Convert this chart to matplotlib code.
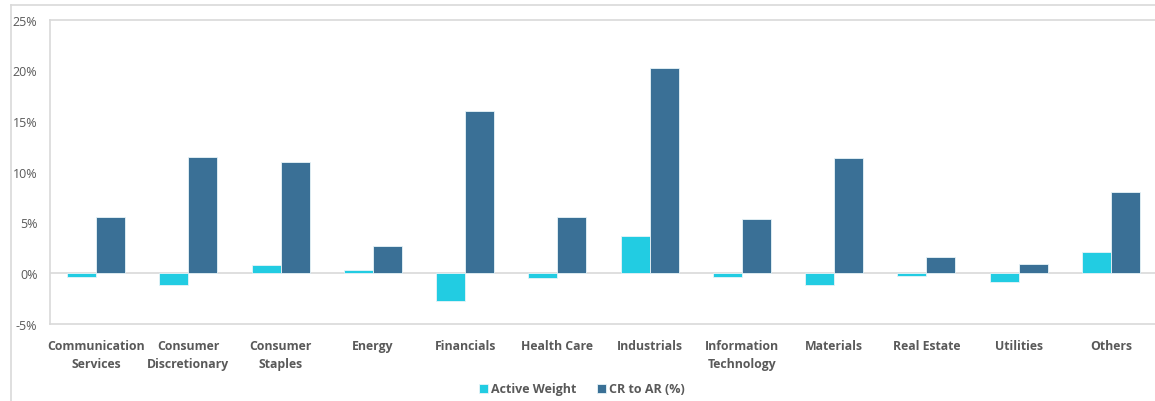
import matplotlib.pyplot as plt
import numpy as np
from matplotlib.lines import Line2D
from matplotlib.ticker import FuncFormatter

plt.rcParams['font.family'] = ['Open Sans', 'DejaVu Sans']

sectors = ['Communication\nServices', 'Consumer\nDiscretionary', 'Consumer\nStaples',
           'Energy', 'Financials', 'Health Care', 'Industrials',
           'Information\nTechnology', 'Materials', 'Real Estate', 'Utilities', 'Others']
active_weight = [-0.37, -1.12, 0.85, 0.36, -2.73, -0.49, 3.65, -0.36, -1.18, -0.30, -0.83, 2.10]
cr_to_ar = [5.55, 11.47, 10.95, 2.69, 15.94, 5.58, 20.20, 5.39, 11.34, 1.64, 0.89, 7.99]

grey = '#595959'
line_grey = '#D9D9D9'

fig = plt.figure(figsize=(11.55, 4.02), dpi=100)
ax = fig.add_axes([50 / 1155, 77 / 402, 1107 / 1155, 304.5 / 402])

x = np.arange(len(sectors))
width = 0.315
ax.bar(x - width / 2, active_weight, width, color='#22CCE2', edgecolor='#E8F4F8',
       linewidth=0.6, label='Active Weight', zorder=3)
ax.bar(x + width / 2, cr_to_ar, width, color='#3A7096', edgecolor='#E8F4F8',
       linewidth=0.6, label='CR to AR (%)', zorder=3)

ax.set_xlim(-0.5, len(sectors) - 0.5)
ax.set_ylim(-5, 25)
ax.set_yticks(np.arange(-5, 26, 5))
ax.yaxis.set_major_formatter(FuncFormatter(lambda v, _: f'{v:.0f}%'))
ax.axhline(0, color=line_grey, linewidth=1.2, zorder=2)

ax.set_xticks(x)
ax.set_xticklabels(sectors, fontweight='bold', fontsize=8.8, color=grey,
                   linespacing=1.5, va='top')
ax.tick_params(axis='x', length=0, pad=11)
ax.tick_params(axis='y', length=0, pad=9, labelsize=9, labelcolor=grey)

for side in ['top', 'bottom', 'left']:
    ax.spines[side].set_color(line_grey)
    ax.spines[side].set_linewidth(1.2)
ax.spines['right'].set_visible(False)

handles, labels = ax.get_legend_handles_labels()
leg = fig.legend(handles, labels, loc='center', bbox_to_anchor=(582 / 1155, 12 / 402),
                 ncol=2, frameon=False, handlelength=0.7, handleheight=0.7,
                 handletextpad=0.3, columnspacing=1.6,
                 prop={'weight': 'bold', 'size': 9})
for t in leg.get_texts():
    t.set_color(grey)

# outer frame of the chart area
fig.add_artist(Line2D([11 / 1155, 11 / 1155], [0, 396 / 402], color=line_grey, linewidth=1.2))
fig.add_artist(Line2D([11 / 1155, 1], [396 / 402, 396 / 402], color=line_grey, linewidth=1.2))

fig.savefig('out.png', dpi=100, facecolor='white')
